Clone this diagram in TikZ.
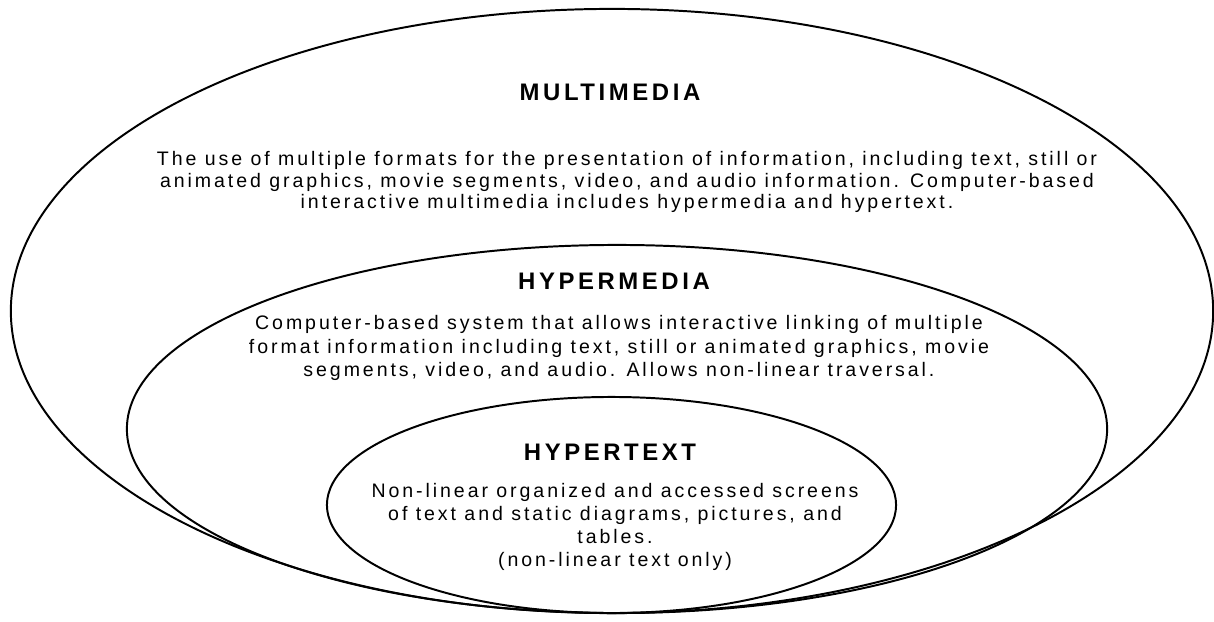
\documentclass[tikz,border=0pt]{standalone}
\usepackage{fontspec}
\setmainfont{Liberation Sans}[LetterSpace=15]
\usetikzlibrary{shapes.geometric}

\begin{document}
\begin{tikzpicture}[x=0.025cm, y=-0.025cm]
    % Styles
    \tikzset{ring/.style={ellipse,draw,line width=1.4pt,inner sep=0pt},
             title/.style={font=\fontsize{17}{20}\selectfont\bfseries},
             body/.style={align=center,font=\fontsize{13.9}{15}\selectfont}}

    \useasboundingbox (0,0) rectangle (1214,622);

    % --- Nested sets ---
    \node[ring, minimum width=30.05cm, minimum height=15.1cm] (multimedia) at (612, 311) {};
    \node[ring, minimum width=24.5cm, minimum height=9.2cm] (hypermedia) at (617, 429) {};
    \node[ring, minimum width=14.225cm, minimum height=5.4cm] (hypertext) at (611.5, 505) {};

    % --- Multimedia ---
    \node[title] (mm_title) at (610, 92) {MULTIMEDIA};
    \node[body] (mm_text) at (627, 182) {The use of multiple formats for the presentation of information, including text, still or\\
        animated graphics, movie segments, video, and audio information. Computer-based\\
        interactive multimedia includes hypermedia and hypertext.};

    % --- Hypermedia ---
    \node[title] (hm_title) at (614, 281) {HYPERMEDIA};
    \node[body, font=\fontsize{13.9}{17}\selectfont] (hm_text) at (619, 348) {Computer-based system that allows interactive linking of multiple\\
        format information including text, still or animated graphics, movie\\
        segments, video, and audio. Allows non-linear traversal.};

    % --- Hypertext ---
    \node[title] (ht_title) at (610, 452) {HYPERTEXT};
    \node[body, font=\fontsize{13.9}{16.5}\selectfont] (ht_text) at (615, 527) {Non-linear organized and accessed screens\\
        of text and static diagrams, pictures, and\\
        tables.\\
        (non-linear text only)};

\end{tikzpicture}
\end{document}
